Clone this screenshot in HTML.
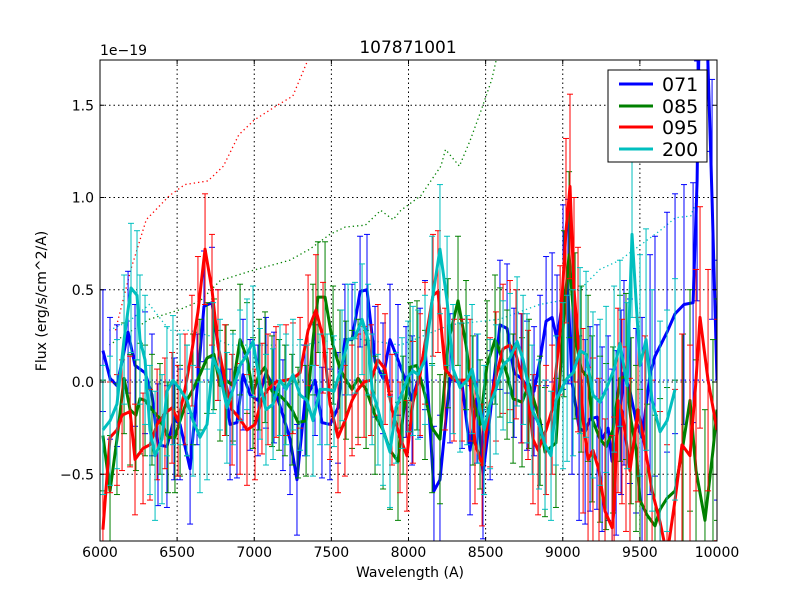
<!DOCTYPE html>
<html><head><meta charset="utf-8"><style>
html,body{margin:0;padding:0;background:#fff;width:800px;height:600px;overflow:hidden;}
svg{display:block;}
svg text{font-family:"DejaVu Sans","Liberation Sans",sans-serif;}
</style></head><body>
<svg id="chart" width="800" height="600" viewBox="0 0 800 600" xmlns="http://www.w3.org/2000/svg">
<rect width="800" height="600" fill="#fff"/>
<defs><clipPath id="clip"><rect x="100" y="60" width="617" height="481"/></clipPath></defs>
<g id="grid"></g>
<g id="refs" clip-path="url(#clip)"></g>
<g id="series" clip-path="url(#clip)"></g>
<rect x="100" y="60" width="617" height="481" fill="none" stroke="#000" stroke-width="1"/>
<g id="ticks"></g>
<text x="408" y="53" font-size="17" text-anchor="middle">107871001</text>
<text x="100" y="55" font-size="14">1e−19</text>
<text x="410" y="577" font-size="14" text-anchor="middle">Wavelength (A)</text>
<text transform="translate(46,301) rotate(-90)" font-size="14" text-anchor="middle">Flux (erg/s/cm^2/A)</text>
<g>
<rect x="608" y="70" width="99" height="92" fill="#fff" stroke="#000" stroke-width="1"/>
<g><line x1="619" y1="84" x2="653" y2="84" stroke="#0000ff" stroke-width="3"/><text x="662" y="91" font-size="19">071</text></g>
<g><line x1="619" y1="106" x2="653" y2="106" stroke="#008000" stroke-width="3"/><text x="662" y="113" font-size="19">085</text></g>
<g><line x1="619" y1="127" x2="653" y2="127" stroke="#ff0000" stroke-width="3"/><text x="662" y="134" font-size="19">095</text></g>
<g><line x1="619" y1="149" x2="653" y2="149" stroke="#00bfbf" stroke-width="3"/><text x="662" y="156" font-size="19">200</text></g>
</g>
</svg>
<script>
const xTicks=[6000,6500,7000,7500,8000,8500,9000,9500,10000];
const yTicks=[-0.5,0.0,0.5,1.0,1.5];
const yTickLabels=["−0.5","0.0","0.5","1.0","1.5"];
const errBandStart=[6000,6500,7000,7500,8000,8500,9000,9500];
const errBand071=[0.33,0.3,0.3,0.3,0.35,0.35,0.5,0.65];
const errBand085=[0.3,0.3,0.3,0.32,0.35,0.35,0.45,0.6];
const errBand095=[0.3,0.3,0.3,0.3,0.33,0.35,0.5,0.6];
const errBand200=[0.35,0.3,0.3,0.3,0.35,0.35,0.45,0.6];
const w071=[6019,6065,6110,6182,6227,6292,6337,6376,6434,6480,6519,6584,6629,6674,6726,6765,6843,6888,6927,6973,7024,7076,7128,7186,7232,7277,7329,7394,7439,7491,7543,7588,7634,7686,7731,7783,7835,7880,7932,7984,8023,8075,8107,8165,8204,8269,8347,8399,8444,8483,8529,8593,8639,8684,8730,8768,8814,8853,8892,8931,8963,9002,9034,9060,9106,9145,9177,9222,9255,9294,9320,9346,9378,9397,9436,9475,9514,9566,9598,9676,9728,9786,9845,9871,9884,9935,9968,10000];
const f071=[0.17,0.02,-0.02,0.27,0.09,0.05,-0.07,-0.34,-0.35,-0.20,-0.23,-0.47,-0.04,0.41,0.43,0.20,-0.23,-0.22,0.04,-0.07,-0.10,0.05,-0.03,-0.18,-0.31,-0.53,-0.10,0.01,-0.22,-0.23,-0.14,0.23,0.23,0.49,0.50,0.11,0.02,0.23,0.12,0.0,-0.10,0.05,0.20,-0.59,-0.53,0.02,-0.01,-0.37,-0.09,-0.50,-0.18,0.31,0.29,0.05,0.02,-0.02,-0.05,0.12,0.33,0.35,0.23,0.46,0.49,0.0,-0.25,-0.27,-0.20,-0.19,-0.31,-0.25,-0.43,-0.33,-0.11,0.05,-0.05,-0.21,-0.30,0.04,0.14,0.27,0.37,0.42,0.43,1.09,1.9,1.9,0.99,0.01];
const w085=[6019,6065,6110,6156,6195,6233,6259,6292,6337,6389,6441,6486,6519,6564,6603,6648,6694,6739,6778,6817,6862,6908,6953,6992,7031,7070,7115,7161,7199,7245,7284,7336,7381,7413,7459,7511,7556,7595,7634,7673,7725,7783,7835,7880,7932,7965,8010,8055,8107,8153,8204,8256,8321,8373,8418,8464,8509,8561,8593,8639,8678,8736,8781,8853,8885,8956,9008,9041,9080,9119,9164,9190,9242,9281,9326,9371,9410,9443,9475,9501,9546,9598,9631,9676,9728,9780,9825,9864,9922,9974,10000];
const f085=[-0.29,-0.59,-0.31,0.02,-0.15,-0.18,-0.09,-0.10,-0.15,-0.20,-0.30,-0.30,-0.21,-0.10,-0.04,0.04,0.13,0.15,-0.02,0.01,-0.02,0.23,0.13,-0.06,0.04,0.08,-0.05,-0.07,-0.10,-0.15,-0.22,-0.21,0.23,0.46,0.46,0.20,0.07,0.01,-0.04,0.02,-0.04,-0.18,-0.26,-0.37,-0.43,-0.18,0.08,0.09,-0.07,-0.25,-0.31,0.21,0.44,0.20,-0.10,-0.23,0.09,0.23,0.16,0.04,-0.09,-0.11,-0.01,-0.21,-0.38,-0.33,0.37,0.69,0.25,0.07,0.02,-0.20,-0.31,-0.35,-0.26,0.02,0.03,-0.21,-0.36,-0.64,-0.72,-0.78,-0.69,-0.63,-0.59,-0.34,-0.10,-0.48,-0.75,-0.37,-0.15];
const w095=[6019,6065,6110,6143,6195,6227,6279,6324,6370,6421,6467,6506,6551,6596,6635,6681,6726,6765,6810,6856,6908,6953,7005,7050,7089,7141,7206,7251,7297,7349,7400,7446,7491,7543,7588,7634,7673,7712,7757,7802,7848,7893,7945,7990,8029,8075,8107,8159,8191,8237,8295,8347,8399,8431,8477,8529,8567,8613,8658,8697,8736,8775,8807,8840,8892,8931,8983,9021,9047,9073,9099,9132,9164,9196,9235,9274,9320,9333,9358,9384,9410,9436,9488,9533,9579,9631,9676,9728,9773,9825,9864,9890,9942,10000];
const f095=[-0.80,-0.30,-0.26,-0.18,-0.16,-0.42,-0.36,-0.34,-0.23,-0.17,-0.14,-0.21,-0.04,0.17,0.38,0.72,0.50,0.20,0.01,-0.15,-0.20,-0.26,-0.23,-0.09,-0.04,0.0,0.01,0.02,0.05,0.28,0.39,0.24,-0.12,-0.30,-0.21,-0.10,-0.04,0.0,0.01,0.12,0.07,-0.15,-0.30,-0.40,-0.11,0.04,0.21,0.47,0.49,0.07,0.01,0.01,0.01,-0.33,-0.45,-0.11,0.03,0.18,0.20,0.15,0.02,-0.07,-0.31,-0.37,-0.26,-0.15,0.28,0.82,1.06,0.50,0.23,-0.21,-0.42,-0.37,-0.48,-0.70,-0.79,-0.69,-0.10,-0.16,-0.31,-0.48,-0.15,-0.35,-0.59,-0.76,-0.94,-0.64,-0.34,-0.40,0.01,0.35,0.01,-0.26];
const w200=[6019,6065,6110,6156,6201,6240,6259,6292,6324,6357,6402,6434,6473,6519,6564,6603,6648,6694,6733,6778,6823,6862,6908,6953,6992,7037,7076,7122,7167,7206,7251,7297,7342,7381,7426,7472,7517,7569,7608,7653,7699,7738,7764,7802,7835,7880,7919,7958,7997,8029,8062,8107,8153,8204,8250,8289,8334,8380,8412,8451,8490,8529,8567,8613,8658,8704,8743,8768,8801,8846,8885,8924,8956,9002,9028,9067,9112,9151,9196,9242,9281,9333,9371,9417,9449,9501,9540,9579,9631,9676,9728];
const f200=[-0.26,-0.21,-0.12,0.23,0.51,0.47,0.23,0.12,-0.26,-0.40,-0.31,-0.05,0.01,-0.04,-0.10,-0.21,-0.30,-0.23,0.13,0.04,-0.14,-0.04,0.09,0.15,0.22,-0.01,-0.15,-0.12,0.01,-0.04,0.04,-0.07,-0.10,-0.21,-0.04,-0.04,-0.05,0.09,0.23,0.24,0.34,0.23,-0.04,-0.15,-0.26,-0.38,-0.14,-0.06,0.03,0.06,0.04,0.12,0.44,0.72,0.44,0.07,-0.03,0.01,0.07,-0.09,-0.26,-0.12,-0.04,0.09,0.13,0.22,0.12,0.02,-0.15,-0.23,-0.34,-0.40,-0.10,-0.02,0.02,0.05,0.17,0.15,-0.07,-0.11,-0.04,0.07,0.21,-0.02,0.80,0.09,0.23,-0.10,-0.27,-0.21,-0.04];
const refRedW=[6100,6200,6300,6450,6550,6700,6800,6900,7000,7150,7250,7350];
const refRedF=[0.28,0.61,0.88,1.01,1.07,1.09,1.17,1.34,1.42,1.50,1.55,1.75];
const refGreenW=[6060,6320,6510,6650,6780,6970,7100,7230,7360,7490,7590,7720,7820,7900,7950,8080,8210,8240,8330,8400,8470,8540,8570];
const refGreenF=[0.20,0.34,0.39,0.44,0.55,0.60,0.63,0.66,0.72,0.80,0.84,0.85,0.93,0.88,0.93,1.01,1.17,1.26,1.17,1.31,1.47,1.64,1.75];
const ref200W=[6060,6190,6320,6450,6580,6710,6840,7040,7300,7620,7950,8270,8590,8850,8980,9110,9240,9370,9500,9630,9730,9830,9880];
const ref200F=[0.28,0.33,0.42,0.28,0.28,0.25,0.20,0.20,0.20,0.24,0.20,0.31,0.34,0.42,0.44,0.50,0.61,0.66,0.74,0.82,0.89,0.90,1.01];
const ref071W=[6000,10000];
const ref071F=[0.01,0.01];

const X=v=>100+(v-6000)*617/4000;
const Y=v=>382-v*184.5;
const TOP=60,BOT=541;
const clampY=y=>Math.max(TOP,Math.min(BOT,y));
const NS="http://www.w3.org/2000/svg";
function mk(tag,attrs,parent){const e=document.createElementNS(NS,tag);for(const k in attrs)e.setAttribute(k,attrs[k]);parent.appendChild(e);return e;}
const grid=document.getElementById('grid'),ticks=document.getElementById('ticks'),refs=document.getElementById('refs'),series=document.getElementById('series');
xTicks.forEach(t=>{
  const gl=mk('line',{x1:X(t),x2:X(t),y1:60,y2:541,stroke:'#000','stroke-dasharray':'1.5,3','stroke-width':1},grid);
  
  
  mk('line',{x1:X(t),x2:X(t),y1:541,y2:537,stroke:'#000'},ticks);
  mk('line',{x1:X(t),x2:X(t),y1:60,y2:64,stroke:'#000'},ticks);
  const tx=mk('text',{x:X(t),y:557,'font-size':14,'text-anchor':'middle'},ticks);
  tx.textContent=t;
  
  
});
yTicks.forEach((t,i)=>{
  const gl=mk('line',{x1:100,x2:717,y1:Y(t),y2:Y(t),stroke:'#000','stroke-dasharray':'1.5,3','stroke-width':1},grid);
  
  
  mk('line',{x1:100,x2:104,y1:Y(t),y2:Y(t),stroke:'#000'},ticks);
  mk('line',{x1:713,x2:717,y1:Y(t),y2:Y(t),stroke:'#000'},ticks);
  const tx=mk('text',{x:94,y:Y(t)+5,'font-size':14,'text-anchor':'end'},ticks);
  tx.textContent=yTickLabels[i];
  
  
});
function ref(w,f,color,name){
  const p=mk('polyline',{points:w.map((v,i)=>X(v)+','+Y(f[i])).join(' '),fill:'none',stroke:color,'stroke-width':1.3,'stroke-dasharray':'1.3,3'},refs);
  
  
}
ref(refRedW,refRedF,'#ff0000','ref-curve-095');
ref(refGreenW,refGreenF,'#008000','ref-curve-085');
ref(ref200W,ref200F,'#00bfbf','ref-curve-200');
ref(ref071W,ref071F,'#0000ff','ref-curve-071');
function errOf(w,band){let k=0;for(let i=0;i<errBandStart.length;i++)if(w>=errBandStart[i])k=i;return band[k];}
function draw(w,f,band,color,name){
  const g=mk('g',{},series);
  
  
  w.forEach((v,i)=>{
    const e=errOf(v,band),x=X(v);
    const yt=Y(f[i]+e),yb=Y(f[i]-e);
    const b=mk('line',{x1:x,x2:x,y1:clampY(yt),y2:clampY(yb),stroke:color,'stroke-width':1},g);
    
    
    if(yt>=TOP&&yt<=BOT)mk('line',{x1:x-3,x2:x+3,y1:yt,y2:yt,stroke:color,'stroke-width':1},g);
    if(yb>=TOP&&yb<=BOT)mk('line',{x1:x-3,x2:x+3,y1:yb,y2:yb,stroke:color,'stroke-width':1},g);
  });
  const p=mk('polyline',{points:w.map((v,i)=>X(v)+','+Y(f[i])).join(' '),fill:'none',stroke:color,'stroke-width':3,'stroke-linejoin':'round'},g);
  
  
}
draw(w071,f071,errBand071,'#0000ff','071');
draw(w085,f085,errBand085,'#008000','085');
draw(w095,f095,errBand095,'#ff0000','095');
draw(w200,f200,errBand200,'#00bfbf','200');
</script>
</body></html>
